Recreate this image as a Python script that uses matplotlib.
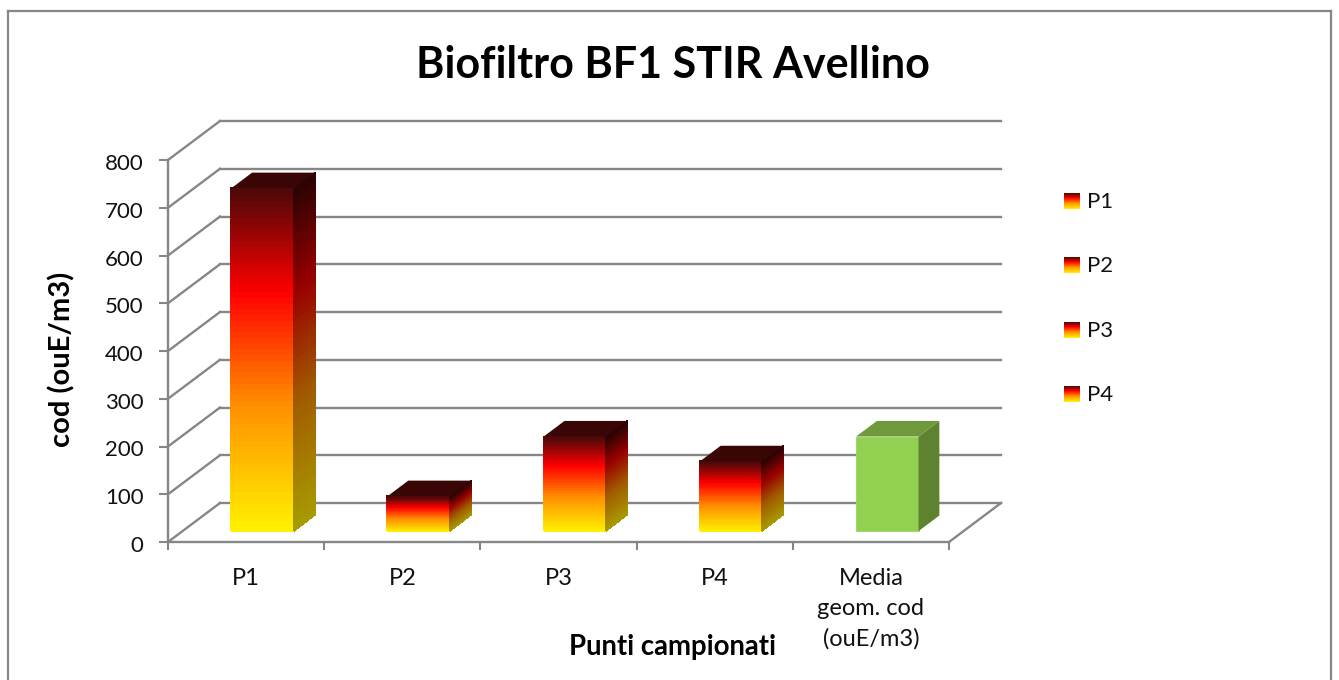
import numpy as np
import matplotlib
matplotlib.use('Agg')
import matplotlib.pyplot as plt
from matplotlib.colors import LinearSegmentedColormap
from matplotlib.lines import Line2D
from matplotlib.patches import Polygon
from matplotlib.transforms import ScaledTranslation

plt.rcParams['font.family'] = ['Lato', 'DejaVu Sans']

categories = ['P1', 'P2', 'P3', 'P4', 'Media\ngeom. cod\n(ouE/m3)']
values = [718, 73, 198, 146, 198]
legend_names = ['P1', 'P2', 'P3', 'P4']
y_ticks = [0, 100, 200, 300, 400, 500, 600, 700, 800]

W, H = 1339, 680
GREY = '#868686'

# fire gradient, bottom to top
fire = LinearSegmentedColormap.from_list('fire', [
    (0.0, '#fff200'), (0.38, '#ff8c00'), (0.70, '#ff0000'), (1.0, '#4d0808')])
fire_side = LinearSegmentedColormap.from_list('fire_side', [
    (0.0, '#a89c00'), (0.38, '#a05a00'), (0.70, '#990000'), (1.0, '#2a0303')])
fire_top = '#3a0505'

fig = plt.figure(figsize=(W / 100, H / 100), dpi=100)
ax = fig.add_axes([168 / W, (H - 542) / H, 781 / W, 382 / H])
ax.set_xlim(0, 5)
ax.set_ylim(0, 800)
ax.patch.set_alpha(0)
for s in ax.spines.values():
    s.set_visible(False)

# depth of the floor, in data units
depth_x = 52 / (781 / 5)
depth_y = 39 / (382 / 800)


def grid(xs, ys):
    ax.add_line(Line2D(xs, ys, color=GREY, lw=1.7, clip_on=False, zorder=1))


for v in y_ticks:
    grid([0, depth_x], [v, v + depth_y])
    grid([depth_x, 5 + depth_x], [v + depth_y, v + depth_y])
grid([0, 0], [0, 800])
grid([0, 5], [0, 0])
grid([5, 5 + depth_x], [0, depth_y])

# bars sit in the middle of the floor depth
bar_w = 0.40
front = 0.28
back = 0.68


def draw_bar(i, v):
    x0 = i + 0.512 - bar_w / 2 + front * depth_x
    x1 = x0 + bar_w
    y0 = front * depth_y
    y1 = y0 + v
    dx = (back - front) * depth_x
    dy = (back - front) * depth_y
    n = 60
    t = np.linspace(0, 1, n + 1)
    c = ((t[:-1] + t[1:]) / 2).reshape(-1, 1)
    ys = y0 + t * v
    if i < 4:
        m = ax.pcolormesh(np.tile([x0, x1], (n + 1, 1)), np.column_stack([ys, ys]), c,
                          cmap=fire, vmin=0, vmax=1, edgecolors='face', lw=0.2, zorder=3)
        m.set_clip_on(False)
        # side gradient runs along with the depth skew
        m = ax.pcolormesh(np.tile([x1, x1 + dx], (n + 1, 1)),
                          np.column_stack([ys, ys + dy]), c,
                          cmap=fire_side, vmin=0, vmax=1, edgecolors='face', lw=0.2, zorder=3)
        m.set_clip_on(False)
        top = fire_top
    else:
        ax.add_patch(Polygon([(x0, y0), (x1, y0), (x1, y1), (x0, y1)], fc='#91d050',
                             ec='#9bd65c', lw=0.6, clip_on=False, zorder=3))
        ax.add_patch(Polygon([(x1, y0), (x1 + dx, y0 + dy), (x1 + dx, y1 + dy), (x1, y1)],
                             fc='#5e8230', ec='none', clip_on=False, zorder=3))
        top = '#6f9a3b'
    ax.add_patch(Polygon([(x0, y1), (x1, y1), (x1 + dx, y1 + dy), (x0 + dx, y1 + dy)],
                         fc=top, ec='none', clip_on=False, zorder=3))


for i, v in enumerate(values):
    draw_bar(i, v)

ax.set_yticks(y_ticks)
ax.set_yticklabels([str(v) for v in y_ticks], fontsize=16, color='#111111')
ax.tick_params(axis='y', length=6.5, width=1.5, color=GREY, pad=11)
for lab in ax.get_yticklabels():
    lab.set_transform(lab.get_transform() + ScaledTranslation(0, -2 / 100, fig.dpi_scale_trans))
ax.set_xticks(np.arange(6))
ax.set_xticklabels([])
ax.tick_params(axis='x', length=5.8, width=1.5, color=GREY)
ax.set_xticks(np.arange(5) + 0.5, minor=True)
ax.set_xticklabels(categories, minor=True, fontsize=17, color='#111111', linespacing=1.52)
ax.tick_params(axis='x', which='minor', length=0, pad=18.5)

fig.text(673 / W, 1 - 65 / H, 'Biofiltro BF1 STIR Avellino', fontsize=31, fontweight='bold',
         ha='center', va='center', color='black')
fig.text(62 / W, 1 - 359 / H, 'cod (ouE/m3)', fontsize=21, fontweight='bold', rotation=90,
         ha='center', va='center', color='black')
fig.text(673 / W, 1 - 647 / H, 'Punti campionati', fontsize=19.8, fontweight='bold',
         ha='center', va='center', color='black')

# legend swatches
grad = np.linspace(1, 0, 40).reshape(-1, 1)
for name, yc in zip(legend_names, [201, 265, 330, 394]):
    lax = fig.add_axes([1064 / W, 1 - (yc + 8) / H, 16 / W, 16 / H])
    lax.imshow(grad, cmap=fire, vmin=0, vmax=1, aspect='auto')
    lax.axis('off')
    fig.text(1087 / W, 1 - (yc + 1) / H, name, fontsize=16, ha='left', va='center', color='#111111')

# chart frame, bottom edge runs off the image
for xs, ys in [([8, 8], [0, H - 11]), ([8, 1331], [H - 11, H - 11]), ([1331, 1331], [H - 11, 0])]:
    fig.add_artist(Line2D(np.array(xs) / W, np.array(ys) / H, color=GREY, lw=1.6))

fig.savefig('out.png', dpi=100)
